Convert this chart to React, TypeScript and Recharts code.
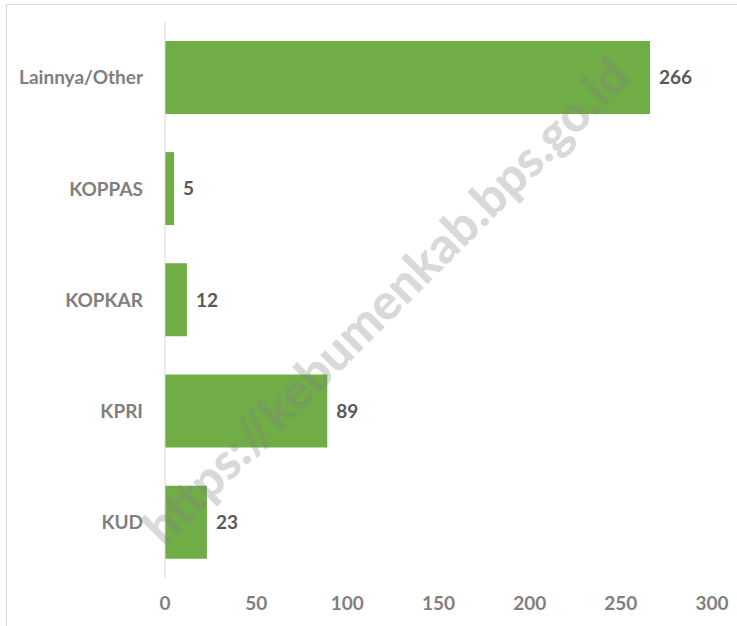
import { BarChart, Bar, XAxis, YAxis, LabelList } from "recharts";

const CATEGORIES = ["Lainnya/Other", "KOPPAS", "KOPKAR", "KPRI", "KUD"];
const COUNTS = [266, 5, 12, 89, 23];
const X_TICKS = [0, 50, 100, 150, 200, 250, 300];

const FONT = "Lato, 'Open Sans', sans-serif";

const data = CATEGORIES.map((name, i) => ({ name, count: COUNTS[i] }));

export default function App() {
  return (
    <div style={{ position: "absolute", left: 0, top: 0, width: 737, height: 626, overflow: "hidden", background: "#fff", fontFamily: FONT }}>
      <div style={{ position: "absolute", left: 6, top: 4, width: 760, height: 660, border: "1.5px solid #d9d9d9", boxSizing: "border-box" }} />
      <BarChart
        width={737}
        height={626}
        data={data}
        layout="vertical"
        margin={{ top: 22, right: 25, left: 0, bottom: 8 }}
        barCategoryGap="17%"
        style={{ position: "absolute", left: 0, top: 0 }}
      >
        <XAxis
          type="number"
          domain={[0, 300]}
          ticks={X_TICKS}
          axisLine={false}
          tickLine={false}
          tickSize={0}
          tickMargin={19}
          height={40}
          tick={{ fill: "#7f7f7f", fontSize: 19, fontWeight: 700, fontFamily: FONT }}
        />
        <YAxis
          type="category"
          dataKey="name"
          width={165}
          axisLine={{ stroke: "#d9d9d9", strokeWidth: 1 }}
          tickLine={false}
          tickSize={0}
          tickMargin={22}
          tick={{ fill: "#7f7f7f", fontSize: 19, fontWeight: 700, fontFamily: FONT }}
        />
        <Bar dataKey="count" fill="#70ad47" isAnimationActive={false}>
          <LabelList
            dataKey="count"
            position="right"
            offset={9}
            fill="#595959"
            fontSize={19}
            fontWeight={700}
            fontFamily={FONT}
          />
        </Bar>
      </BarChart>
      <div
        style={{
          position: "absolute",
          left: 385,
          top: 300,
          transform: "translate(-50%, -50%) rotate(-45deg)",
          whiteSpace: "nowrap",
          fontSize: 50,
          fontWeight: 900,
          color: "rgba(128,128,128,0.3)",
          pointerEvents: "none",
          fontFamily: FONT,
        }}
      >
        https://kebumenkab.bps.go.id
      </div>
    </div>
  );
}
